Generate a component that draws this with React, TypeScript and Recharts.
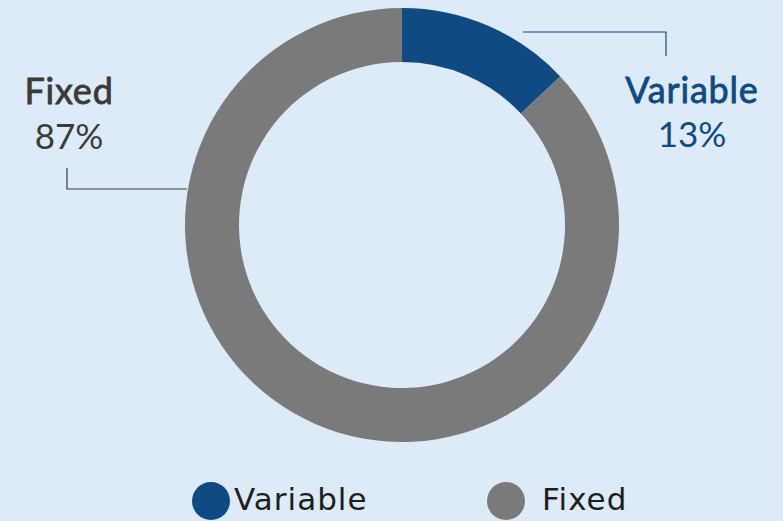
import { PieChart, Pie, Cell, Legend } from 'recharts';

const categories = ['Variable', 'Fixed'];
const shares = [13, 87];
const colors = ['#0F4A82', '#7A7A7A'];
const labelColors = ['#0F4A82', '#3A3A3A'];

const data = categories.map((name, i) => ({ name, value: shares[i] }));

// leader line + text placement, offsets from the pie centre
const labelLayout = [
    { x1: 121, x2: 264, y: -193, yEnd: -169, tx: 692, nameY: -122, pctY: -78 },
    { x1: -215, x2: -335, y: -36, yEnd: -57, tx: 69, nameY: -121, pctY: -76 },
];

const renderLabel = (props: any) => {
    const { cx, cy, index, name, value } = props;
    const l = labelLayout[index];
    return (
        <g>
            <polyline
                points={`${cx + l.x1},${cy + l.y} ${cx + l.x2},${cy + l.y} ${cx + l.x2},${cy + l.yEnd}`}
                fill="none"
                stroke={labelColors[index]}
                strokeWidth={1.2}
            />
            {/* medium weight: regular face with a thin outline */}
            <text x={l.tx} y={cy + l.nameY} textAnchor="middle" fill={labelColors[index]}
                stroke={labelColors[index]} strokeWidth={0.8}
                fontSize={36} fontWeight={400} fontFamily="Lato" letterSpacing={0.8}>
                {name}
            </text>
            <text x={l.tx} y={cy + l.pctY} textAnchor="middle" fill={labelColors[index]}
                fontSize={35} fontWeight={400} fontFamily="Lato">
                {value}%
            </text>
        </g>
    );
};

const renderLegend = () => (
    <div style={{ display: 'flex', paddingLeft: 192, fontFamily: '"DejaVu Sans"', fontSize: 31, color: '#1E1E1E', letterSpacing: 1 }}>
        {categories.map((name, i) => (
            <div key={name} style={{ display: 'flex', alignItems: 'center', width: 295 }}>
                <span style={{
                    display: 'inline-block', width: 38, height: 38, borderRadius: '50%',
                    background: colors[i], marginRight: i === 0 ? 4 : 17,
                }} />
                <span style={{ position: 'relative', top: -2 }}>{name}</span>
            </div>
        ))}
    </div>
);

export default function App() {
    return (
        <div style={{ position: 'fixed', top: 0, left: 0, width: 783, height: 521, background: '#DDEAF7' }}>
            <PieChart width={783} height={521} margin={{ top: 0, right: 0, bottom: 0, left: 0 }}>
                <Pie
                    data={data}
                    dataKey="value"
                    nameKey="name"
                    cx={402}
                    cy={225}
                    innerRadius={163}
                    outerRadius={217}
                    startAngle={90}
                    endAngle={-270}
                    stroke="none"
                    label={renderLabel}
                    labelLine={false}
                    isAnimationActive={false}
                >
                    {data.map((d, i) => <Cell key={d.name} fill={colors[i]} />)}
                </Pie>
                <Legend content={renderLegend} wrapperStyle={{ left: 0, top: 482, width: 783 }} />
            </PieChart>
        </div>
    );
}
